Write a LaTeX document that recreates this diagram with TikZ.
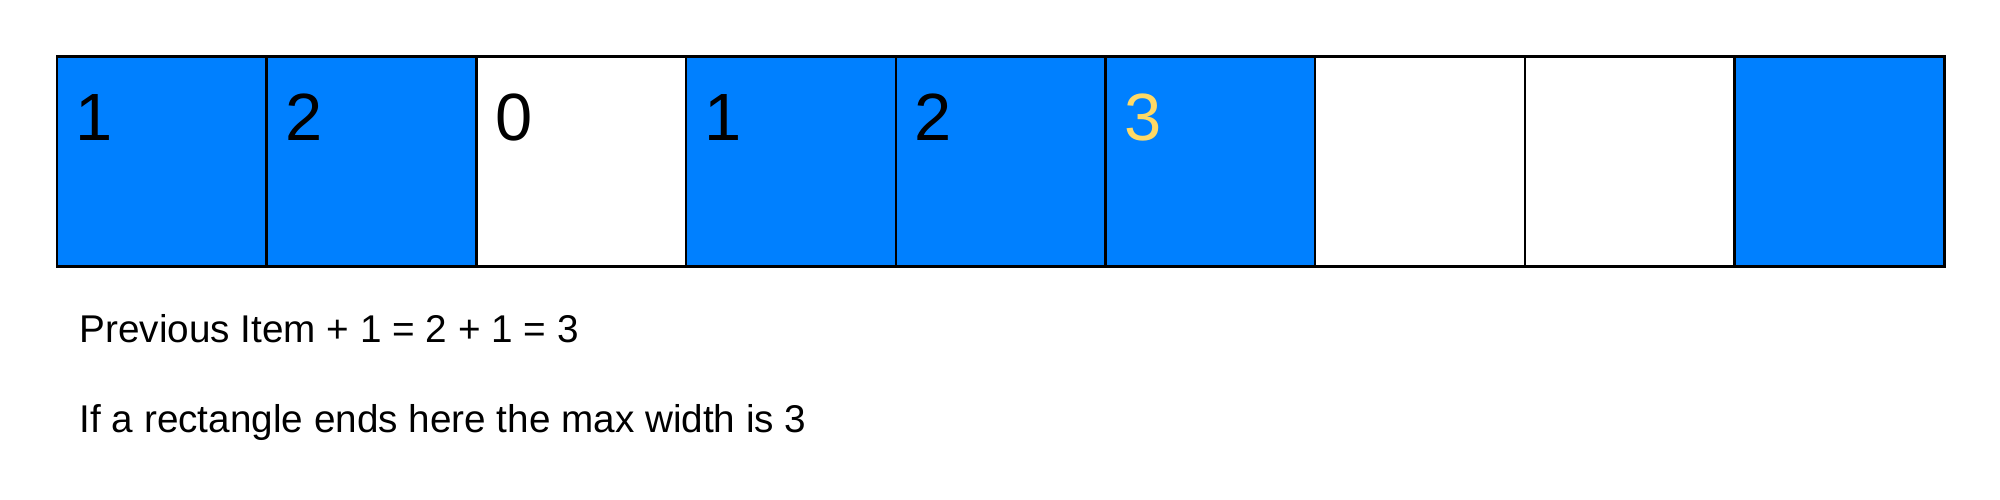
\documentclass[tikz,border=0pt]{standalone}
\usepackage{fontspec}
\setmainfont{Liberation Sans}
\usetikzlibrary{calc}
\definecolor{myblue}{RGB}{0,128,255}
\definecolor{myyellow}{RGB}{255,217,102}

\begin{document}
\begin{tikzpicture}[x=0.01cm, y=-0.01cm]
\tikzset{CellStyle/.style = {draw, line width=0.7pt, minimum size=2.097cm, inner sep=0pt, outer sep=0pt}}
\tikzset{ValueStyle/.style = {font=\fontsize{19}{23}\selectfont, anchor=base west, inner sep=0pt}}
\tikzset{NoteStyle/.style = {font=\fontsize{11}{13}\selectfont, anchor=base west, inner sep=0pt}}
\useasboundingbox (0,0) rectangle (2000,500);
\foreach \index/\fillcol in {1/myblue, 2/myblue, 3/white, 4/myblue, 5/myblue, 6/myblue, 7/white, 8/white, 9/myblue}
    \node[CellStyle, fill=\fillcol] (cell-\index) at ({57+209.7*(\index-0.5)},161.5) {};
\foreach \index/\value in {1/1, 2/2, 3/0, 4/1, 5/2}
    \node[ValueStyle] (value-\index) at ($(cell-\index.north west)+(18,84)$) {\value};
\node[ValueStyle, text=myyellow] (value-6) at ($(cell-6.north west)+(18,84)$) {3};
\node[NoteStyle] (note-sum) at (79,342) {Previous Item + 1 = 2 + 1 = 3};
\node[NoteStyle] (note-width) at (79,432) {If a rectangle ends here the max width is 3};
\end{tikzpicture}
\end{document}
